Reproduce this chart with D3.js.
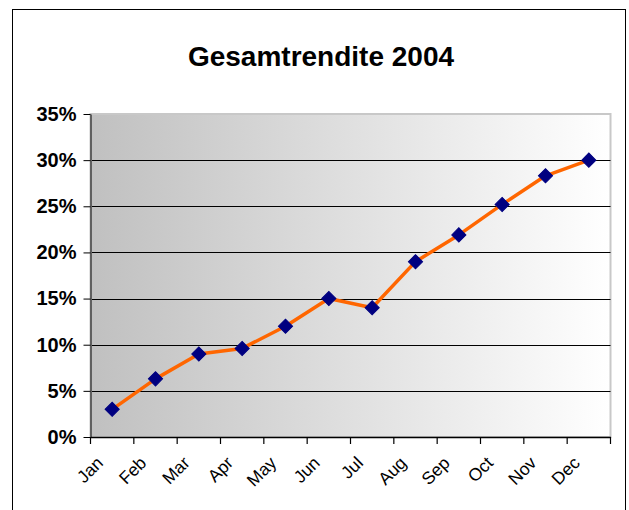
<!DOCTYPE html>
<html>
<head>
<meta charset="utf-8">
<script src="https://cdn.jsdelivr.net/npm/d3@7"></script>
<style>
  html, body { margin: 0; padding: 0; background: #ffffff; }
  svg { display: block; }
</style>
</head>
<body>
<script>
const title = "Gesamtrendite 2004";
const months = ["Jan", "Feb", "Mar", "Apr", "May", "Jun", "Jul", "Aug", "Sep", "Oct", "Nov", "Dec"];
const returns = [0.030, 0.063, 0.090, 0.096, 0.120, 0.150, 0.140, 0.190, 0.219, 0.252, 0.283, 0.300];
const yTicks = [0, 0.05, 0.10, 0.15, 0.20, 0.25, 0.30, 0.35];

const W = 629, H = 510;
const plot = { left: 90.5, right: 610.5, top: 114, bottom: 437 };

const svg = d3.select("body").append("svg").attr("width", W).attr("height", H);

// outer chart border
svg.append("rect")
  .attr("x", 12.5).attr("y", 9.5)
  .attr("width", 613).attr("height", 520)
  .attr("fill", "#ffffff").attr("stroke", "#000000").attr("stroke-width", 1);

const x = d3.scaleBand().domain(months).range([plot.left, plot.right]).padding(0);
const y = d3.scaleLinear().domain([0, 0.35]).range([plot.bottom, plot.top]);

// gradient background
const defs = svg.append("defs");
const grad = defs.append("linearGradient").attr("id", "bg")
  .attr("x1", "0%").attr("x2", "100%").attr("y1", "0%").attr("y2", "0%");
grad.append("stop").attr("offset", "0%").attr("stop-color", "#c0c0c0");
grad.append("stop").attr("offset", "100%").attr("stop-color", "#ffffff");

svg.append("rect")
  .attr("x", plot.left).attr("y", plot.top)
  .attr("width", plot.right - plot.left).attr("height", plot.bottom - plot.top)
  .attr("fill", "url(#bg)")
  .attr("stroke", "#c8c8c8").attr("stroke-width", 2);

// gridlines
svg.append("g").selectAll("line")
  .data(yTicks.filter(t => t > 0 && t < 0.35))
  .join("line")
  .attr("x1", plot.left).attr("x2", plot.right)
  .attr("y1", d => Math.round(y(d)) + 0.5).attr("y2", d => Math.round(y(d)) + 0.5)
  .attr("stroke", "#000000").attr("stroke-width", 1);

// y axis
const yAxis = d3.axisLeft(y).tickValues(yTicks)
  .tickFormat(d3.format(".0%")).tickSize(7).tickSizeOuter(0).tickPadding(7);
const gy = svg.append("g").attr("transform", `translate(${plot.left},0)`).call(yAxis);
gy.select(".domain").attr("stroke", "#606060").attr("stroke-width", 2);
gy.selectAll(".tick line").attr("stroke", "#000000");
gy.selectAll(".tick text")
  .attr("font-family", "Liberation Sans, Arial, sans-serif")
  .attr("font-size", 20).attr("font-weight", "bold").attr("fill", "#000000");

// x axis
const xAxis = d3.axisBottom(x).tickSize(0).tickSizeOuter(0).tickFormat("");
const gx = svg.append("g").attr("transform", `translate(0,${plot.bottom})`).call(xAxis);
gx.select(".domain").attr("stroke", "#000000").attr("stroke-width", 1.5);
gx.selectAll(".tick").remove();

// x tick marks at category boundaries
const bounds = months.map(m => x(m)).concat([x(months[months.length - 1]) + x.bandwidth()]);
svg.append("g").selectAll("line").data(bounds).join("line")
  .attr("x1", d => d).attr("x2", d => d)
  .attr("y1", plot.bottom).attr("y2", plot.bottom + 7)
  .attr("stroke", "#000000").attr("stroke-width", 1.2);

// x labels
svg.append("g").selectAll("text").data(months).join("text")
  .attr("transform", d => `translate(${x(d) + x.bandwidth() / 2 - 8},${plot.bottom + 27}) rotate(-45)`)
  .attr("text-anchor", "end")
  .attr("font-family", "Liberation Sans, Arial, sans-serif")
  .attr("font-size", 17.5).attr("fill", "#000000")
  .text(d => d);

// line
const line = d3.line().x((d, i) => x(months[i]) + x.bandwidth() / 2).y(d => y(d));
svg.append("path").datum(returns)
  .attr("d", line)
  .attr("fill", "none").attr("stroke", "#ff6600").attr("stroke-width", 3.5)
  .attr("stroke-linejoin", "round");

// markers
const diamond = d3.symbol().type(d3.symbolSquare).size(100);
svg.append("g").selectAll("path").data(returns).join("path")
  .attr("d", diamond)
  .attr("transform", (d, i) => `translate(${x(months[i]) + x.bandwidth() / 2},${y(d)}) rotate(45)`)
  .attr("fill", "#000080").attr("stroke", "#000080").attr("stroke-width", 1);

// title
svg.append("text")
  .attr("x", 321).attr("y", 66)
  .attr("text-anchor", "middle")
  .attr("font-family", "Liberation Sans, Arial, sans-serif")
  .attr("font-size", 28).attr("font-weight", "bold").attr("fill", "#000000")
  .text(title);
</script>
</body>
</html>
